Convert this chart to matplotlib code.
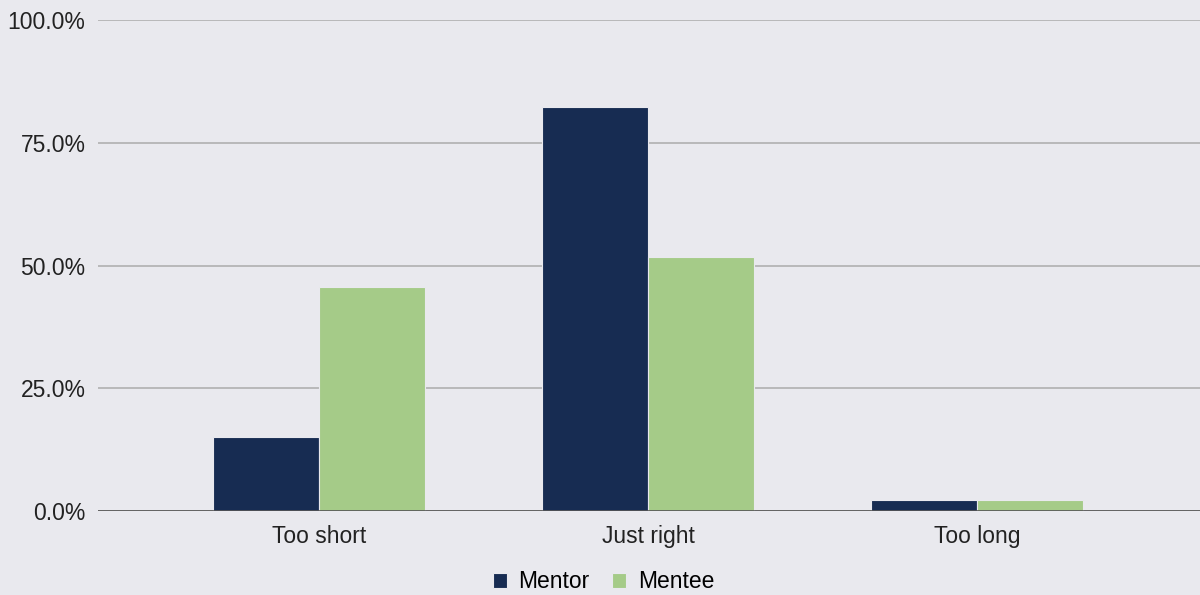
import matplotlib
matplotlib.use('Agg')
import matplotlib.pyplot as plt
import numpy as np
from matplotlib.ticker import FuncFormatter

# data
categories = ['Too short', 'Just right', 'Too long']
mentor = [15.1, 82.3, 2.2]
mentee = [45.6, 51.7, 2.2]

plt.rcParams['font.family'] = ['Liberation Sans', 'DejaVu Sans']

bg = '#E9E9EE'
fig = plt.figure(figsize=(12, 5.95), dpi=100, facecolor=bg)
ax = fig.add_axes([0.0817, 0.141, 0.9183, 0.825], facecolor=bg)

x = np.arange(len(categories))
w = 0.322
ax.bar(x - w / 2, mentor, w, color='#172C52', label='Mentor', zorder=3,
       edgecolor=bg, linewidth=0.8)
ax.bar(x + w / 2, mentee, w, color='#A5CB88', label='Mentee', zorder=3,
       edgecolor=bg, linewidth=0.8)

ax.set_xlim(-0.672, 2.678)
ax.set_ylim(0, 100)
ax.set_yticks([0, 25, 50, 75, 100])
ax.yaxis.set_major_formatter(FuncFormatter(lambda v, p: f'{v:.1f}%'))
ax.set_xticks(x)
ax.set_xticklabels(categories)
ax.grid(axis='y', color='#B0B0B0', linewidth=1.2, zorder=0)
ax.axhline(0, color='#555555', linewidth=1.2, zorder=4)
for s in ax.spines.values():
    s.set_visible(False)
ax.tick_params(length=0, labelsize=16.5, colors='#222222')
ax.tick_params(axis='y', pad=9)
ax.tick_params(axis='x', pad=10)

# legend centred on the figure, below the axis labels
fig.legend(loc='center', bbox_to_anchor=(0.503, 0.022), ncol=2, frameon=False,
           fontsize=16.5, handlelength=0.6, handleheight=0.6, handletextpad=0.5,
           columnspacing=1.0, borderpad=0)

fig.savefig('out.png', dpi=100, facecolor=bg)
